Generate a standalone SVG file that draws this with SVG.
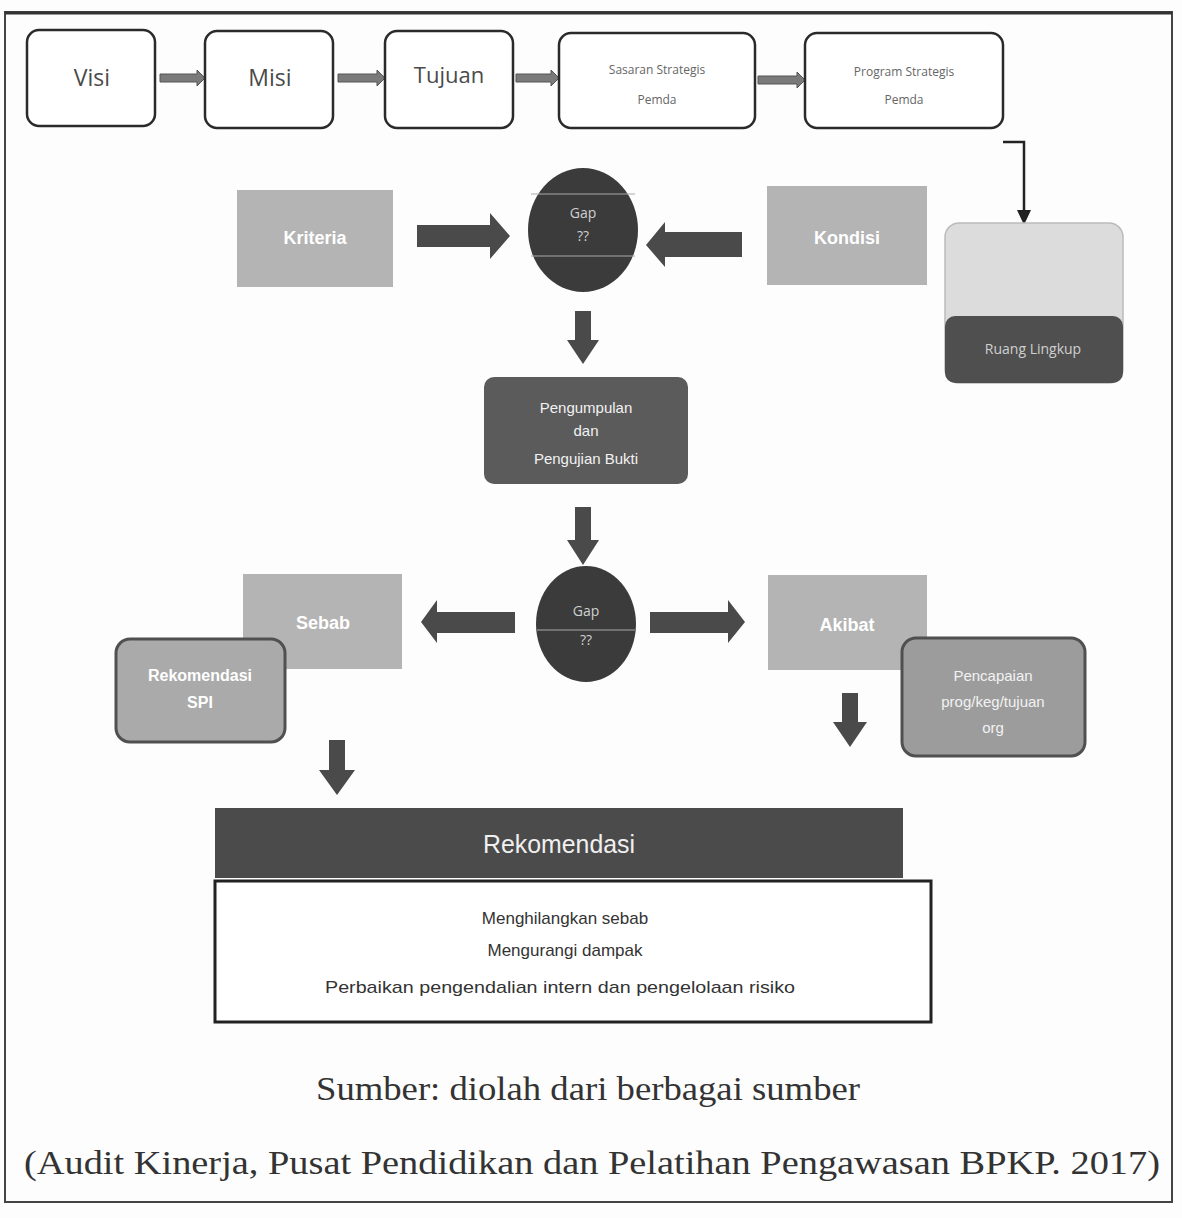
<svg xmlns="http://www.w3.org/2000/svg" width="1182" height="1218" viewBox="0 0 1182 1218">
<style>
.top{fill:#fff;stroke:#2a2a2a;stroke-width:2.5}
.toptxt{font-family:"Open Sans","Liberation Sans",sans-serif;fill:#4a4a4a;text-anchor:middle}
.small{font-family:"Open Sans","Liberation Sans",sans-serif;fill:#666;text-anchor:middle;font-size:12px}
.lite{fill:#b4b4b4}
.wb{font-family:"Liberation Sans",Arial,sans-serif;font-weight:bold;fill:#fff;text-anchor:middle}
.wn{font-family:"Liberation Sans",Arial,sans-serif;fill:#f2f2f2;text-anchor:middle;font-size:15px}
.gap{fill:#3b3b3b}
.gaptxt{font-family:"Open Sans","Liberation Sans",sans-serif;fill:#cfcfcf;text-anchor:middle;font-size:14px}
.garr{fill:#7a7a7a;stroke:#555;stroke-width:1}
.barr{fill:#4a4a4a}
.body{font-family:"Liberation Sans",Arial,sans-serif;fill:#333;text-anchor:middle;font-size:17px}
.cap{font-family:"Liberation Serif","Times New Roman",serif;fill:#333;text-anchor:middle;font-size:34px}
</style>
<rect x="0" y="0" width="1182" height="1218" fill="#fdfdfd"/>
<rect x="5" y="12" width="1167" height="1190" fill="none" stroke="#444" stroke-width="2"/>
<line x1="5" y1="13" x2="1172" y2="13" stroke="#333" stroke-width="3"/>

<g id="connectors">
  <polygon class="garr" points="160,74 197,74 197,70 205,78 197,86 197,82 160,82"/>
  <polygon class="garr" points="338,74 377,74 377,70 385,78 377,86 377,82 338,82"/>
  <polygon class="garr" points="516,74 551,74 551,70 559,78 551,86 551,82 516,82"/>
  <polygon class="garr" points="758,76 797,76 797,72 805,80 797,88 797,84 758,84"/>
  <polyline points="1003,142 1024,142 1024,212" fill="none" stroke="#222" stroke-width="2.5"/>
  <polygon points="1017,210 1031,210 1024,225" fill="#222"/>
  <polygon class="barr" points="417,225 490,225 490,213 510,236 490,259 490,247 417,247"/>
  <polygon class="barr" points="742,232 665,232 665,222 646,245 665,267 665,257 742,257"/>
  <polygon class="barr" points="575,311 591,311 591,340 599,340 583,364 567,340 575,340"/>
  <polygon class="barr" points="575,507 591,507 591,540 599,540 583,565 567,540 575,540"/>
  <polygon class="barr" points="515,612 437,612 437,600 421,622 437,643 437,633 515,633"/>
  <polygon class="barr" points="650,612 728,612 728,600 745,622 728,643 728,633 650,633"/>
  <polygon class="barr" points="329,740 345,740 345,770 355,770 337,795 319,770 329,770"/>
  <polygon class="barr" points="842,693 858,693 858,722 867,722 850,747 833,722 842,722"/>
</g>

<g id="visi"><rect class="top" x="27" y="30" width="128" height="96" rx="12"/><text class="toptxt" x="92" y="86" font-size="23">Visi</text></g>
<g id="misi"><rect class="top" x="205" y="31" width="128" height="97" rx="12"/><text class="toptxt" x="270" y="86" font-size="23">Misi</text></g>
<g id="tujuan"><rect class="top" x="385" y="31" width="128" height="97" rx="12"/><text class="toptxt" x="449" y="83" font-size="22">Tujuan</text></g>
<g id="sasaran"><rect class="top" x="559" y="33" width="196" height="95" rx="12"/><text class="small" x="657" y="74">Sasaran Strategis</text><text class="small" x="657" y="104" font-size="11">Pemda</text></g>
<g id="program"><rect class="top" x="805" y="33" width="198" height="95" rx="12"/><text class="small" x="904" y="76">Program Strategis</text><text class="small" x="904" y="104" font-size="11">Pemda</text></g>

<g id="kriteria"><rect class="lite" x="237" y="190" width="156" height="97"/><text class="wb" x="315" y="244" font-size="18">Kriteria</text></g>
<g id="gap1"><ellipse class="gap" cx="583" cy="230" rx="55" ry="62"/><line x1="531" y1="194" x2="635" y2="194" stroke="#aaa" stroke-width="1"/><line x1="531" y1="256" x2="635" y2="256" stroke="#aaa" stroke-width="1"/><text class="gaptxt" x="583" y="218">Gap</text><text class="gaptxt" x="583" y="241" font-size="12">??</text></g>
<g id="kondisi"><rect class="lite" x="767" y="186" width="160" height="99"/><text class="wb" x="847" y="244" font-size="18">Kondisi</text></g>
<g id="ruang"><rect x="945" y="223" width="178" height="160" rx="14" fill="#dcdcdc" stroke="#bbb" stroke-width="1.5"/><rect x="945" y="316" width="178" height="67" rx="10" fill="#4f4f4f"/><text class="gaptxt" x="1033" y="354" font-size="13">Ruang Lingkup</text></g>

<g id="pengumpulan"><rect x="484" y="377" width="204" height="107" rx="10" fill="#5b5b5b"/><text class="wn" x="586" y="413">Pengumpulan</text><text class="wn" x="586" y="436">dan</text><text class="wn" x="586" y="464">Pengujian Bukti</text></g>

<g id="gap2"><ellipse class="gap" cx="586" cy="624" rx="50" ry="58"/><line x1="537" y1="630" x2="635" y2="630" stroke="#aaa" stroke-width="1"/><text class="gaptxt" x="586" y="616">Gap</text><text class="gaptxt" x="586" y="645" font-size="12">??</text></g>
<g id="sebab"><rect class="lite" x="243" y="574" width="159" height="95"/><text class="wb" x="323" y="629" font-size="18">Sebab</text></g>
<g id="rekspi"><rect x="116" y="639" width="169" height="103" rx="14" fill="#aaaaaa" stroke="#505050" stroke-width="3"/><text class="wb" x="200" y="681" font-size="16">Rekomendasi</text><text class="wb" x="200" y="708" font-size="16">SPI</text></g>
<g id="akibat"><rect class="lite" x="768" y="575" width="159" height="95"/><text class="wb" x="847" y="631" font-size="18">Akibat</text></g>
<g id="pencapaian"><rect x="902" y="638" width="183" height="118" rx="14" fill="#9c9c9c" stroke="#505050" stroke-width="3"/><text class="wn" x="993" y="681">Pencapaian</text><text class="wn" x="993" y="707">prog/keg/tujuan</text><text class="wn" x="993" y="733">org</text></g>

<g id="rekomendasi">
  <rect x="215" y="808" width="688" height="70" fill="#4b4b4b"/>
  <text x="559" y="853" font-family="Liberation Sans,Arial,sans-serif" font-size="26" fill="#f0f0f0" text-anchor="middle" textLength="152" lengthAdjust="spacingAndGlyphs">Rekomendasi</text>
  <rect x="215" y="881" width="716" height="141" fill="#fff" stroke="#222" stroke-width="3"/>
  <text class="body" x="565" y="924">Menghilangkan sebab</text>
  <text class="body" x="565" y="956">Mengurangi dampak</text>
  <text class="body" x="560" y="993" textLength="470" lengthAdjust="spacingAndGlyphs">Perbaikan pengendalian intern dan pengelolaan risiko</text>
</g>

<text class="cap" x="588" y="1100" textLength="544" lengthAdjust="spacingAndGlyphs">Sumber: diolah dari berbagai sumber</text>
<text class="cap" x="592" y="1174" textLength="1136" lengthAdjust="spacingAndGlyphs">(Audit Kinerja, Pusat Pendidikan dan Pelatihan Pengawasan BPKP. 2017)</text>
</svg>
